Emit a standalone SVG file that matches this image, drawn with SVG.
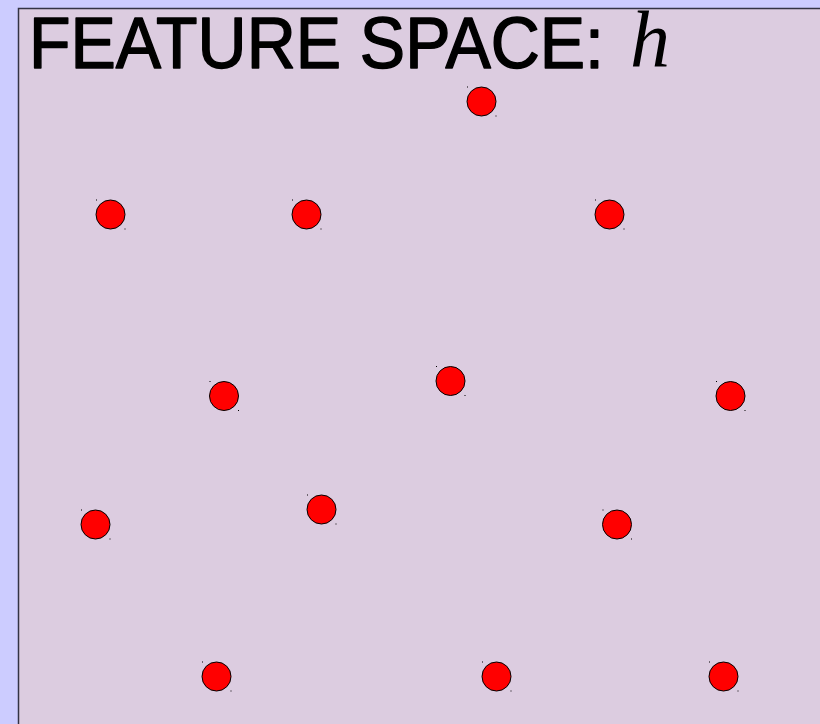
<svg xmlns="http://www.w3.org/2000/svg" width="820" height="724" viewBox="0 0 820 724">
<style>
.pt{fill:#ff0000;stroke:#000;stroke-width:1}
.h{fill:#000}
.title{font-family:"Comic Sans MS","Liberation Sans",sans-serif;font-size:72px;fill:#000;stroke:#000;stroke-width:1.5;stroke-linejoin:round}
.var{font-family:"Liberation Serif",serif;font-style:italic;font-size:80px;fill:#000}
</style>
<defs>
<g id="dot">
<circle class="pt" cx="0" cy="0" r="14.5"/>
<rect class="h" x="-14.5" y="-15" width="1" height="1"/>
<rect class="h" x="14" y="14" width="1" height="1"/>
</g>
</defs>
<rect x="0" y="0" width="820" height="724" fill="#ccccff"/>
<rect id="space" x="18.5" y="8.5" width="810" height="730" fill="#dccce0" stroke="#333344" stroke-width="1.5"/>
<g id="title">
<text class="title" x="29" y="68" textLength="575" lengthAdjust="spacingAndGlyphs">FEATURE SPACE:</text>
<text class="var" x="630" y="66">h</text>
</g>
<g id="points">
<use id="p1" href="#dot" x="481.5" y="101.5"/>
<use id="p2" href="#dot" x="110.5" y="214.5"/>
<use id="p3" href="#dot" x="306.5" y="214.5"/>
<use id="p4" href="#dot" x="609.5" y="214.5"/>
<use id="p5" href="#dot" x="224" y="396"/>
<use id="p6" href="#dot" x="450.5" y="381"/>
<use id="p7" href="#dot" x="730.5" y="396"/>
<use id="p8" href="#dot" x="95.5" y="524.5"/>
<use id="p9" href="#dot" x="321.5" y="509.5"/>
<use id="p10" href="#dot" x="617" y="524.5"/>
<use id="p11" href="#dot" x="216.5" y="676.5"/>
<use id="p12" href="#dot" x="496.5" y="676.5"/>
<use id="p13" href="#dot" x="723.5" y="676.5"/>
</g>
<g id="connectors"/>
</svg>
